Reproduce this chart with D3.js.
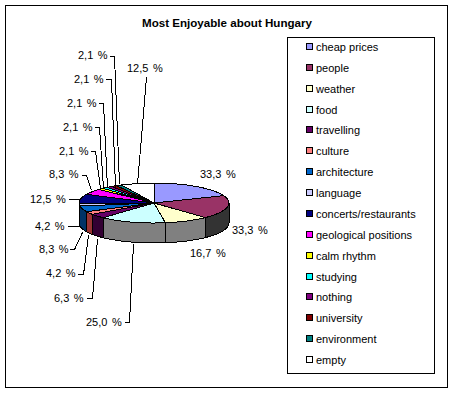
<!DOCTYPE html>
<html><head><meta charset="utf-8">
<script src="https://cdn.jsdelivr.net/npm/d3@7"></script>
<style>html,body{margin:0;background:#fff}svg{display:block}text{font-family:"Liberation Sans",Arial,sans-serif;font-size:11px;fill:#000}.pct{word-spacing:1.5px}path,rect{shape-rendering:crispEdges}</style>
</head><body><svg id="c" width="455" height="394"></svg>
<script>
const categories=["cheap prices","people","weather","food","travelling","culture","architecture","language","concerts/restaurants","geological positions","calm rhythm","studying","nothing","university","environment","empty"];
const values=[33.3,33.3,16.7,25.0,6.3,4.2,8.3,4.2,12.5,8.3,2.1,2.1,2.1,2.1,2.1,12.5];
const labels=["33,3 %","33,3 %","16,7 %","25,0 %","6,3 %","4,2 %","8,3 %","4,2 %","12,5 %","8,3 %","2,1 %","2,1 %","2,1 %","2,1 %","2,1 %","12,5 %"];
const colors=["#9999ff","#993366","#ffffcc","#ccffff","#660066","#ff8080","#0066cc","#ccccff","#000080","#ff00ff","#ffff00","#00ffff","#800080","#800000","#008080","#ffffff"];
const sideColors=["#4d4d80","#333333","#808080","#808080","#330033","#993333","#003366","#666680","#000040","#800080","#808000","#008080","#400040","#400000","#004040","#808080"];
// label text anchor [x,y] and leader-line knots per slice
const labelPos=[[200,178],[232,234],[190,257],[86,326],[54,302],[46,277],[39,253],[35,230],[30,203],[49,178],[59,155],[63,131],[67,107],[74,83],[78,59],[127,72]];
const leaders=[null,null,null,
 [[133,244],[129,322],[124,322]],
 [[97,239],[92,298],[86,298]],
 [[88,235],[83,274],[77,274]],
 [[82,232],[74,249],[69,249]],
 [[79,226],[67,226]],
 [[79,199],[68,199]],
 [[91,190],[86,175],[81,175]],
 [[100,188],[95,151],[90,151]],
 [[103,188],[99,127],[94,127]],
 [[107,188],[103,103],[98,103]],
 [[115,187],[111,79],[105,79]],
 [[119,184],[114,56],[109,56]],
 [[137,184],[146,77]]];
const cx=154,cy=203,rx=75,ry=20,depth=20;
const svg=d3.select("#c");
svg.append("rect").attr("x",5.5).attr("y",5.5).attr("width",442).attr("height",382).attr("fill","#fff").attr("stroke","#000");
svg.append("text").attr("x",227).attr("y",27).attr("text-anchor","middle").attr("font-weight","bold").style("font-size","11.6px").text("Most Enjoyable about Hungary");
const pie=d3.pie().sort(null).value(d=>d);
const arcs=pie(values);
const arc=d3.arc().innerRadius(0).outerRadius(rx);
const px=a=>cx+rx*Math.sin(a), py=a=>cy-ry*Math.cos(a);
// sides, only the front half
const g=svg.append("g");
arcs.forEach((d,i)=>{
  const a0=Math.max(d.startAngle,Math.PI/2), a1=Math.min(d.endAngle,Math.PI*1.5);
  if(a1<=a0) return;
  const steps=d3.range(a0,a1,0.03).concat([a1]);
  const top=steps.map(a=>[px(a),py(a)]);
  const bot=steps.slice().reverse().map(a=>[px(a),py(a)+depth]);
  g.append("path").attr("d",d3.line()(top.concat(bot))+"Z").attr("fill",sideColors[i]).attr("stroke","#000");
});
// top faces
const t=svg.append("g").attr("transform",`translate(${cx},${cy}) scale(1,${ry/rx})`);
t.selectAll("path").data(arcs).join("path").attr("d",arc).attr("fill",(d,i)=>colors[i]).attr("stroke","#000").attr("vector-effect","non-scaling-stroke");
// leaders and labels
leaders.forEach(l=>{if(l)svg.append("path").attr("d",d3.line()(l)).attr("fill","none").attr("stroke","#000").attr("transform","translate(.5,.5)");});
labels.forEach((s,i)=>svg.append("text").attr("class","pct").attr("x",labelPos[i][0]).attr("y",labelPos[i][1]).text(s));
// legend
svg.append("rect").attr("x",287.5).attr("y",37.5).attr("width",147).attr("height",336).attr("fill","#fff").attr("stroke","#000");
const ly=d3.scalePoint().domain(categories).range([47,360]);
categories.forEach((c,i)=>{
  const y=ly(c);
  svg.append("rect").attr("x",306.5).attr("y",y-3.5).attr("width",6).attr("height",6).attr("fill",colors[i]).attr("stroke","#000");
  svg.append("text").attr("x",316).attr("y",y+4).text(c);
});
</script></body></html>
